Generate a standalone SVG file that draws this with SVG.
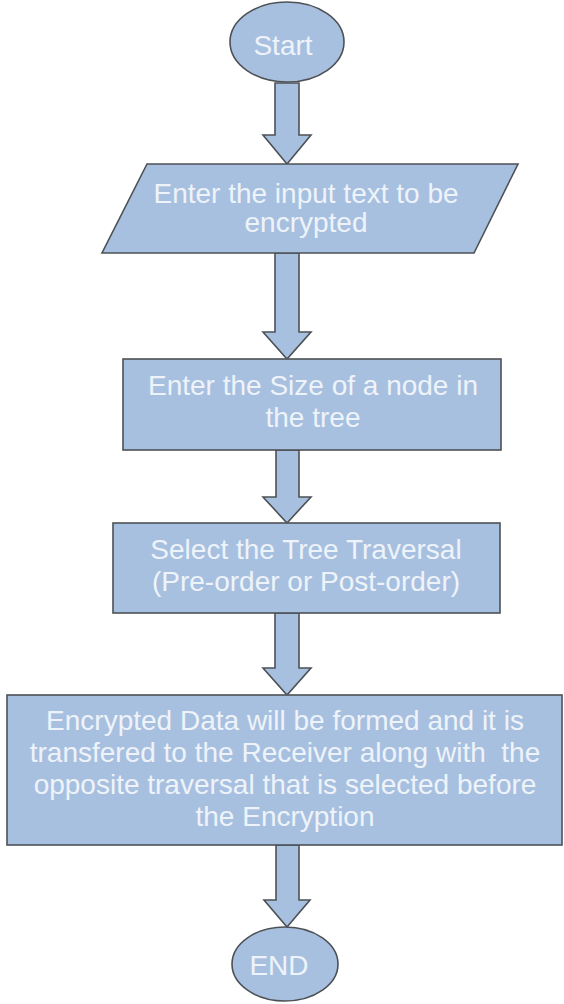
<svg xmlns="http://www.w3.org/2000/svg" width="564" height="1004" viewBox="0 0 564 1004">
<defs>
<style>
.shape{fill:#a8c0df;stroke:#4d5156;stroke-width:1.6}
.arrow{fill:#a8c0df;stroke:#4d5156;stroke-width:1.6;stroke-linejoin:miter}
.t{font-family:"Liberation Sans",Arial,sans-serif;font-size:28px;fill:#eef3fa;text-anchor:middle}
</style>
</defs>
<rect width="564" height="1004" fill="#ffffff"/>
<g id="connectors">
<path class="arrow" d="M275,83 L299,83 L299,135 L311,135 L287,164 L263,135 L275,135 Z"/>
<path class="arrow" d="M275,253 L299,253 L299,332 L311,332 L287,359 L263,332 L275,332 Z"/>
<path class="arrow" d="M276,450 L299,450 L299,497 L311,497 L287,523 L263,497 L276,497 Z"/>
<path class="arrow" d="M275,613 L299,613 L299,668 L311,668 L287,695 L263,668 L275,668 Z"/>
<path class="arrow" d="M276,845 L299,845 L299,900 L310,900 L287,927 L264,900 L276,900 Z"/>
</g>
<g id="start">
<ellipse class="shape" cx="287" cy="42" rx="57" ry="40"/>
<text class="t" x="283" y="55">Start</text>
</g>
<g id="input">
<path class="shape" d="M147,164 L518,164 L474,253 L102,253 Z"/>
<text class="t" x="306" y="203">Enter the input text to be</text>
<text class="t" x="306" y="232">encrypted</text>
</g>
<g id="size">
<rect class="shape" x="123" y="359" width="378" height="91"/>
<text class="t" x="313" y="395">Enter the Size of a node in</text>
<text class="t" x="313" y="427">the tree</text>
</g>
<g id="traversal">
<rect class="shape" x="113" y="523" width="387" height="90"/>
<text class="t" x="306" y="559">Select the Tree Traversal</text>
<text class="t" x="306" y="591">(Pre-order or Post-order)</text>
</g>
<g id="encrypt">
<rect class="shape" x="7" y="695" width="555" height="150"/>
<text class="t" x="285" y="730">Encrypted Data will be formed and it is</text>
<text class="t" x="285" y="762" xml:space="preserve">transfered to the Receiver along with  the</text>
<text class="t" x="285" y="794">opposite traversal that is selected before</text>
<text class="t" x="285" y="826">the Encryption</text>
</g>
<g id="end">
<ellipse class="shape" cx="285" cy="964" rx="53" ry="37"/>
<text class="t" x="279" y="975">END</text>
</g>
</svg>
